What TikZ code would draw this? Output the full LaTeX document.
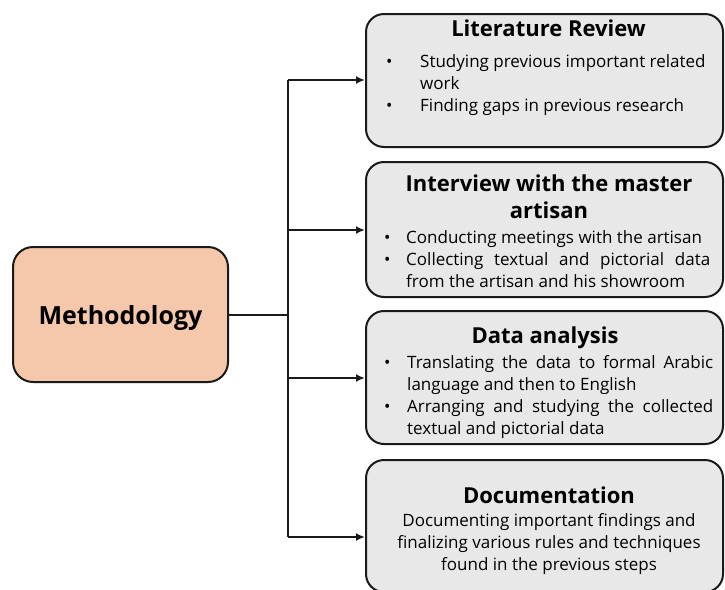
\documentclass[tikz,border=0pt]{standalone}
\usepackage{fontspec}
\setmainfont{Open Sans}
\usetikzlibrary{arrows.meta}
\definecolor{stepfill}{HTML}{E8E8E8}
\definecolor{rootfill}{HTML}{F5C7AB}
\definecolor{ink}{HTML}{1A1A1A}
% one bullet row: bullet in a column of width #1, then the text
\newcommand{\bulletrow}[2]{\makebox[#1][l]{\textbullet}#2}
% a row stretched to the full width #1 (justified line)
\newcommand{\fullrow}[2]{\makebox[#1][s]{#2}}
\begin{document}
\begin{tikzpicture}[x=1pt,y=-1pt,
  stepbox/.style={draw=ink, line width=2pt, fill=stepfill, rounded corners=18pt, inner sep=0pt},
  rootbox/.style={draw=ink, line width=2pt, fill=rootfill, rounded corners=20pt, inner sep=0pt},
  title/.style={font=\fontsize{22}{26}\selectfont\bfseries, inner sep=0pt, anchor=base},
  body/.style={font=\fontsize{17}{22}\selectfont, inner sep=0pt, anchor=base west},
  link/.style={draw=ink, line width=2pt},
  arrowlink/.style={link, -{Latex[length=9pt,width=8pt]}}
]
\useasboundingbox (0,0) rectangle (725,589);

% root box
\node[rootbox, minimum width=215pt, minimum height=135pt] (root) at (120.5,314.5) {};
\node[title, font=\fontsize{25}{28}\selectfont\bfseries] (roottext) at (120.5,324) {Methodology};

% step boxes
\node[stepbox, minimum width=357pt, minimum height=133pt] (b1) at (544.5,80.5) {};
\node[stepbox, minimum width=357pt, minimum height=135pt] (b2) at (544.5,229.5) {};
\node[stepbox, minimum width=357pt, minimum height=133pt] (b3) at (544.5,377.5) {};
\node[stepbox, minimum width=357pt, minimum height=132pt] (b4) at (544.5,526) {};

% box 1 text
\node[title] (t1) at (548.5,36) {Literature Review};
\node[body] (x1) at (386,67) {\begin{tabular}[t]{@{}l@{}}
\bulletrow{34pt}{Studying previous important related}\\
\hspace*{34pt}work\\
\bulletrow{34pt}{Finding gaps in previous research}
\end{tabular}};

% box 2 text
\node[title] (t2a) at (549,191) {Interview with the master};
\node[title] (t2b) at (549,218) {artisan};
\node[body] (x2) at (384,243) {\begin{tabular}[t]{@{}l@{}}
\bulletrow{22pt}{Conducting meetings with the artisan}\\
\bulletrow{22pt}{\fullrow{304pt}{Collecting textual and pictorial data}}\\
\hspace*{22pt}from the artisan and his showroom
\end{tabular}};

% box 3 text
\node[title] (t3) at (545,343) {Data analysis};
\node[body] (x3) at (384,368) {\begin{tabular}[t]{@{}l@{}}
\bulletrow{23pt}{\fullrow{306pt}{Translating the data to formal Arabic}}\\
\hspace*{23pt}language and then to English\\
\bulletrow{23pt}{\fullrow{306pt}{Arranging and studying the collected}}\\
\hspace*{23pt}textual and pictorial data
\end{tabular}};

% box 4 text
\node[title] (t4) at (549,503) {Documentation};
\node[body, anchor=base] (x4) at (549,526) {\begin{tabular}[t]{@{}c@{}}
Documenting important findings and\\
finalizing various rules and techniques\\
found in the previous steps
\end{tabular}};

% connectors
\coordinate (j) at (288,314.5);
\coordinate (k1) at (288,80);
\coordinate (k2) at (288,230);
\coordinate (k3) at (288,378);
\coordinate (k4) at (288,537);
\draw[link] (root.east) -- (j);
\draw[link] (k1) -- (k4);
\draw[arrowlink] (k1) -- (b1.west |- k1);
\draw[arrowlink] (k2) -- (b2.west |- k2);
\draw[arrowlink] (k3) -- (b3.west |- k3);
\draw[arrowlink] (k4) -- (b4.west |- k4);
\end{tikzpicture}
\end{document}
